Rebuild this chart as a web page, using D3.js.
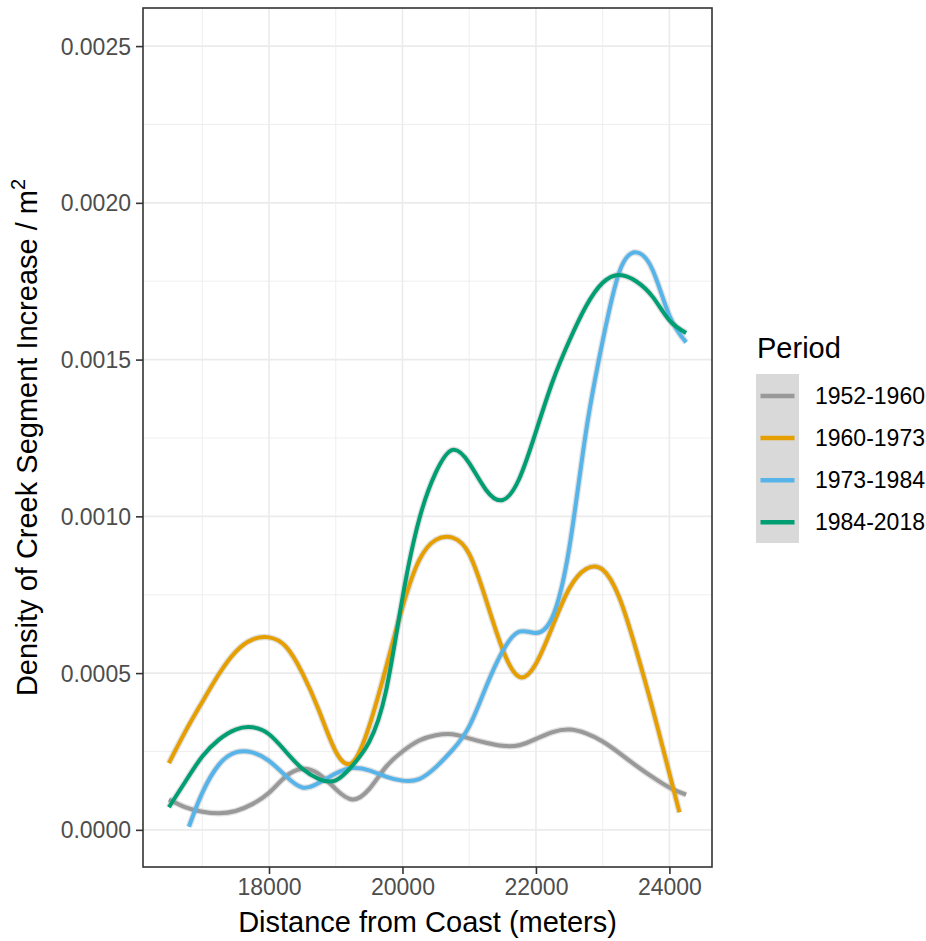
<!DOCTYPE html>
<html>
<head>
<meta charset="utf-8">
<script src="https://cdn.jsdelivr.net/npm/d3@7"></script>
<style>
  html, body { margin: 0; padding: 0; background: #fff; }
  svg { display: block; font-family: "Liberation Sans", Arial, sans-serif; }
</style>
</head>
<body>
<svg id="chart" width="926" height="941"></svg>
<script>
// ---------------- data ----------------
const periods = ["1952-1960", "1960-1973", "1973-1984", "1984-2018"];
const colors = ["#999999", "#E69F00", "#56B4E9", "#009E73"];

const x1952 = [16500,16750,17000,17250,17500,17750,18000,18250,18500,18750,19000,19250,19500,19750,20000,20250,20500,20750,21000,21250,21500,21750,22000,22250,22500,22750,23000,23250,23500,23750,24000,24250];
const y1952 = [0.000097,0.000072,0.000058,0.000053,0.000060,0.000082,0.000118,0.000170,0.000195,0.000178,0.000130,0.000097,0.000130,0.000200,0.000250,0.000285,0.000302,0.000305,0.000292,0.000278,0.000268,0.000270,0.000290,0.000312,0.000320,0.000308,0.000282,0.000245,0.000205,0.000168,0.000135,0.000112];

const x1960 = [16500,16750,17000,17250,17500,17750,18000,18250,18500,18750,19000,19250,19500,19750,20000,20250,20500,20750,21000,21250,21500,21750,22000,22250,22500,22750,23000,23250,23500,23750,24000,24150];
const y1960 = [0.000213,0.000315,0.000408,0.000497,0.000568,0.000607,0.000614,0.000585,0.000500,0.000380,0.000250,0.000215,0.000330,0.000515,0.000710,0.000860,0.000925,0.000932,0.000880,0.000735,0.000576,0.000488,0.000530,0.000650,0.000770,0.000832,0.000830,0.000740,0.000575,0.000385,0.000180,0.000056];

const x1973 = [16800,17000,17250,17500,17750,18000,18250,18500,18750,19000,19250,19500,19750,20000,20250,20500,20750,21000,21250,21500,21750,22000,22250,22500,22750,23000,23250,23500,23750,24000,24250];
const y1973 = [0.000010,0.000118,0.000208,0.000247,0.000247,0.000220,0.000172,0.000135,0.000150,0.000180,0.000197,0.000190,0.000170,0.000157,0.000162,0.000200,0.000255,0.000330,0.000455,0.000570,0.000632,0.000628,0.000680,0.000900,0.001270,0.001560,0.001780,0.001842,0.001785,0.001640,0.001555];

const x1984 = [16500,16750,17000,17250,17500,17750,18000,18250,18500,18750,19000,19250,19500,19750,20000,20250,20500,20750,21000,21250,21500,21750,22000,22250,22500,22750,23000,23250,23500,23750,24000,24250];
const y1984 = [0.000072,0.000155,0.000234,0.000288,0.000320,0.000327,0.000305,0.000250,0.000195,0.000162,0.000158,0.000205,0.000280,0.000440,0.000740,0.000990,0.001140,0.001212,0.001170,0.001085,0.001052,0.001120,0.001270,0.001430,0.001560,0.001670,0.001745,0.001770,0.001750,0.001700,0.001625,0.001585];

const xTicks = [18000, 20000, 22000, 24000];
const xMinor = [17000, 19000, 21000, 23000];
const yTicks = [0, 0.0005, 0.0010, 0.0015, 0.0020, 0.0025];
const yMinor = [0.00025, 0.00075, 0.00125, 0.00175, 0.00225];

const seriesX = [x1952, x1960, x1973, x1984];
const seriesY = [y1952, y1960, y1973, y1984];

// ---------------- layout ----------------
const panel = { left: 143, top: 8, right: 712, bottom: 867 };
const svg = d3.select("#chart");

const x = d3.scaleLinear().domain([16112, 24638]).range([panel.left, panel.right]);
const y = d3.scaleLinear().domain([-0.0001185, 0.0026215]).range([panel.bottom, panel.top]);

const g = svg.append("g");

// grid
g.selectAll("line.xminor").data(xMinor).join("line")
  .attr("x1", d => x(d)).attr("x2", d => x(d))
  .attr("y1", panel.top).attr("y2", panel.bottom)
  .attr("stroke", "#ebebeb").attr("stroke-width", 0.8);
g.selectAll("line.yminor").data(yMinor).join("line")
  .attr("x1", panel.left).attr("x2", panel.right)
  .attr("y1", d => y(d)).attr("y2", d => y(d))
  .attr("stroke", "#ebebeb").attr("stroke-width", 0.8);
g.selectAll("line.xmajor").data(xTicks).join("line")
  .attr("x1", d => x(d)).attr("x2", d => x(d))
  .attr("y1", panel.top).attr("y2", panel.bottom)
  .attr("stroke", "#ebebeb").attr("stroke-width", 1.6);
g.selectAll("line.ymajor").data(yTicks).join("line")
  .attr("x1", panel.left).attr("x2", panel.right)
  .attr("y1", d => y(d)).attr("y2", d => y(d))
  .attr("stroke", "#ebebeb").attr("stroke-width", 1.6);

// lines
const line = d3.line().x(d => x(d[0])).y(d => y(d[1])).curve(d3.curveNatural);
svg.append("clipPath").attr("id", "pclip").append("rect")
  .attr("x", panel.left).attr("y", panel.top)
  .attr("width", panel.right - panel.left).attr("height", panel.bottom - panel.top);
const lines = svg.append("g").attr("clip-path", "url(#pclip)");
periods.forEach((p, i) => {
  const pts = seriesX[i].map((xv, j) => [xv, seriesY[i][j]]);
  lines.append("path").attr("d", line(pts))
    .attr("fill", "none").attr("stroke", "#999").attr("stroke-opacity", 0.3)
    .attr("stroke-width", 6.5).attr("stroke-linejoin", "round");
});
periods.forEach((p, i) => {
  const pts = seriesX[i].map((xv, j) => [xv, seriesY[i][j]]);
  lines.append("path").attr("d", line(pts))
    .attr("fill", "none").attr("stroke", colors[i])
    .attr("stroke-width", 4).attr("stroke-linejoin", "round");
});

// border
svg.append("rect")
  .attr("x", panel.left).attr("y", panel.top)
  .attr("width", panel.right - panel.left).attr("height", panel.bottom - panel.top)
  .attr("fill", "none").attr("stroke", "#333").attr("stroke-width", 1.6);

// axes
const xAxis = d3.axisBottom(x).tickValues(xTicks).tickFormat(d3.format("d")).tickSizeOuter(0).tickSize(7).tickPadding(5);
const yAxis = d3.axisLeft(y).tickValues(yTicks).tickFormat(d3.format(".4f")).tickSizeOuter(0).tickSize(7).tickPadding(5);

const gx = svg.append("g").attr("transform", `translate(0,${panel.bottom})`).call(xAxis);
const gy = svg.append("g").attr("transform", `translate(${panel.left},0)`).call(yAxis);
[gx, gy].forEach(a => {
  a.select(".domain").remove();
  a.selectAll(".tick line").attr("stroke", "#333").attr("stroke-width", 1.6);
  a.selectAll(".tick text").attr("fill", "#4d4d4d").attr("font-size", 23)
    .attr("font-family", "Liberation Sans, Arial, sans-serif");
});
gy.selectAll(".tick text").attr("dy", "0.35em");

// axis titles
svg.append("text")
  .attr("x", (panel.left + panel.right) / 2).attr("y", 932)
  .attr("text-anchor", "middle").attr("font-size", 29).attr("fill", "#000")
  .text("Distance from Coast (meters)");

const yt = svg.append("text")
  .attr("transform", `translate(37,${(panel.top + panel.bottom) / 2}) rotate(-90)`)
  .attr("text-anchor", "middle").attr("font-size", 29).attr("fill", "#000");
yt.append("tspan").text("Density of Creek Segment Increase / m");
yt.append("tspan").attr("font-size", 20).attr("dy", -12).text("2");

// legend
const leg = svg.append("g");
leg.append("text").attr("x", 757).attr("y", 358).attr("font-size", 29).attr("fill", "#000").text("Period");
leg.append("rect").attr("x", 756).attr("y", 374).attr("width", 43).attr("height", 169).attr("fill", "#d9d9d9");
periods.forEach((p, i) => {
  const cy = 396 + i * 42.1;
  leg.append("line").attr("x1", 760.5).attr("x2", 794.5).attr("y1", cy).attr("y2", cy)
    .attr("stroke", colors[i]).attr("stroke-width", 4.5);
  leg.append("text").attr("x", 815).attr("y", cy).attr("dy", "0.35em")
    .attr("font-size", 23).attr("fill", "#000").text(p);
});
</script>
</body>
</html>
